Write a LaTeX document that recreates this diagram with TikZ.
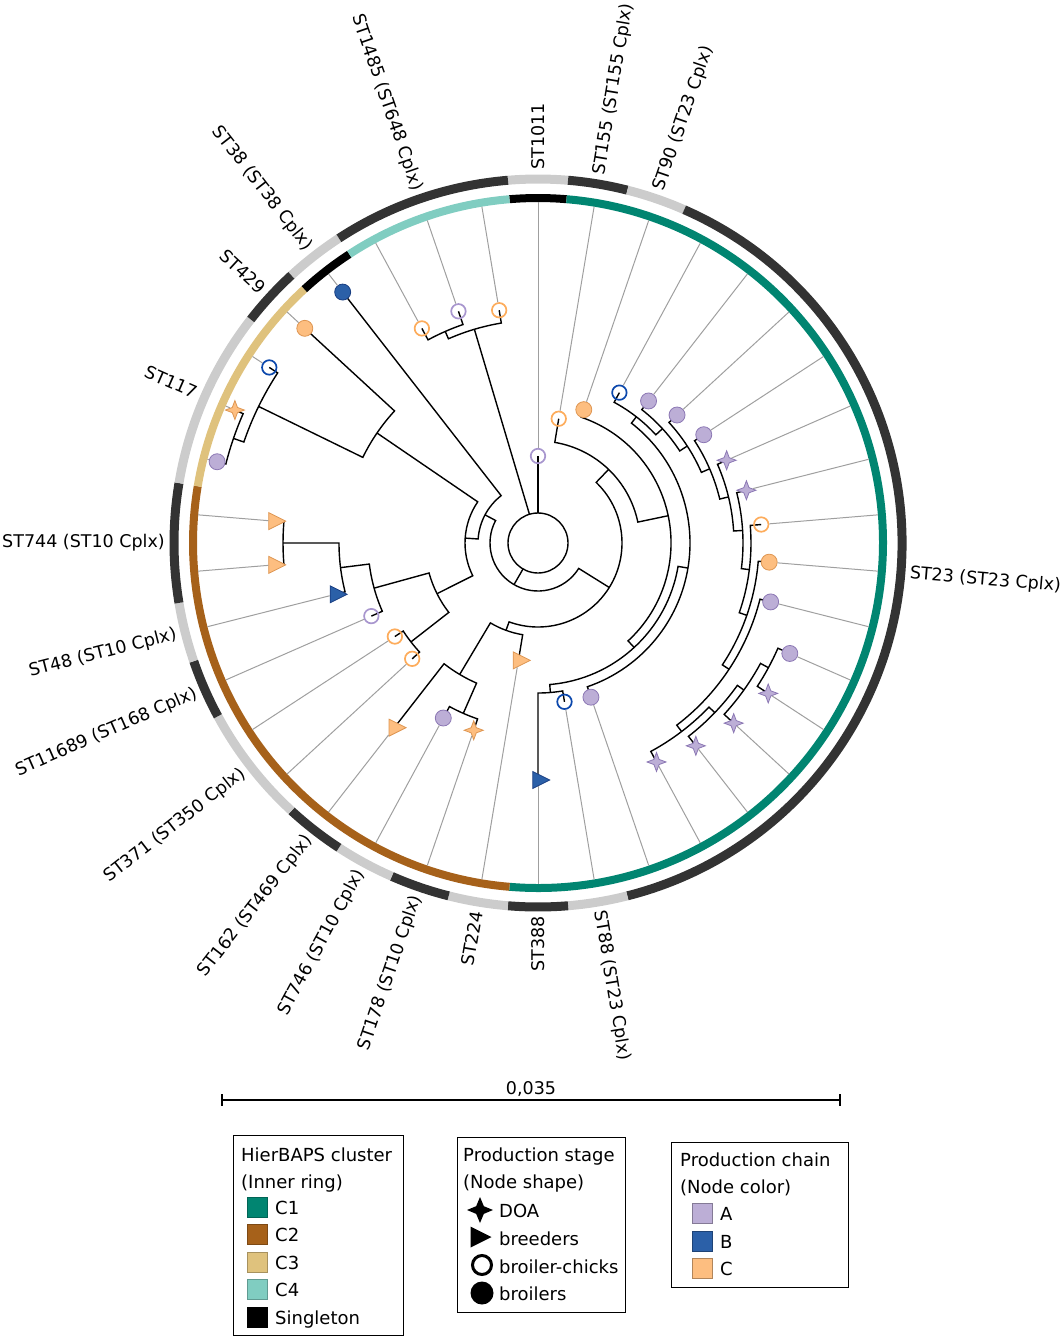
\documentclass[tikz,border=0pt]{standalone}
\usepackage{fontspec}
\setmainfont{DejaVu Sans}
\usetikzlibrary{shapes.geometric}

\definecolor{cOne}{RGB}{1,133,113}
\definecolor{cTwo}{RGB}{166,97,26}
\definecolor{cThree}{RGB}{223,194,125}
\definecolor{cFour}{RGB}{128,205,193}
\definecolor{ringdark}{RGB}{51,51,51}
\definecolor{ringlight}{RGB}{204,204,204}
\definecolor{chA}{RGB}{188,174,214}
\definecolor{chAdk}{RGB}{140,120,180}
\definecolor{chAop}{RGB}{168,150,206}
\definecolor{chB}{RGB}{43,96,168}
\definecolor{chBdk}{RGB}{25,62,130}
\definecolor{chBop}{RGB}{12,72,172}
\definecolor{chC}{RGB}{253,190,128}
\definecolor{chCdk}{RGB}{222,150,82}
\definecolor{chCop}{RGB}{253,172,92}

\begin{document}
\begin{tikzpicture}[x=1pt,y=1pt,
  br/.style={line width=1.4pt},
  leafline/.style={draw=gray!75,line width=1pt},
  inring/.style={line width=8pt},
  outring/.style={line width=9pt},
  lab/.style={font=\fontsize{17.5}{20}\selectfont,inner sep=0pt},
  legtext/.style={font=\fontsize{18}{21}\selectfont,inner sep=0pt,anchor=base west},
  legbox/.style={draw,line width=1pt},
  swatch/.style={rectangle,draw,line width=1pt,minimum size=20pt,inner sep=0pt},
  broil/.style={circle,draw,line width=0.8pt,minimum size=16pt,inner sep=0pt},
  chick/.style={circle,draw,line width=1.7pt,minimum size=14.5pt,inner sep=0pt},
  breed/.style={isosceles triangle,isosceles triangle stretches,draw,line width=0.8pt,minimum width=17pt,minimum height=17pt,inner sep=0pt},
  doa/.style={star,star points=4,star point ratio=2.6,draw,line width=0.8pt,minimum size=19pt,inner sep=0pt},
  broilA/.style={broil,fill=chA,draw=chAdk},
  broilB/.style={broil,fill=chB,draw=chBdk},
  broilC/.style={broil,fill=chC,draw=chCdk},
  chickA/.style={chick,draw=chAop},
  chickB/.style={chick,draw=chBop},
  chickC/.style={chick,draw=chCop},
  breedB/.style={breed,fill=chB,draw=chBdk},
  breedC/.style={breed,fill=chC,draw=chCdk},
  doaA/.style={doa,fill=chA,draw=chAdk},
  doaC/.style={doa,fill=chC,draw=chCdk}]

\useasboundingbox (0,0) rectangle (1063,-1339);

\begin{scope}[shift={(538,-543)}]

  \foreach \sa/\ea/\c in {-4.74/4.74/black, 4.74/184.74/cOne, 184.74/279.47/cTwo,
      279.47/317.37/cThree, 317.37/326.84/black, 326.84/355.26/cFour}
    \draw[inring,\c] ({90-\sa}:345) arc[start angle={90-\sa},end angle={90-\ea},radius=345];

  \foreach \i/\j/\c/\t in {0/0/ringlight/ST1011, 1/1/ringdark/ST155 (ST155 Cplx),
      2/2/ringlight/ST90 (ST23 Cplx), 3/17/ringdark/ST23 (ST23 Cplx),
      18/18/ringlight/ST88 (ST23 Cplx), 19/19/ringdark/ST388, 20/20/ringlight/ST224,
      21/21/ringdark/ST178 (ST10 Cplx), 22/22/ringlight/ST746 (ST10 Cplx),
      23/23/ringdark/ST162 (ST469 Cplx), 24/25/ringlight/ST371 (ST350 Cplx),
      26/26/ringdark/ST11689 (ST168 Cplx), 27/27/ringlight/ST48 (ST10 Cplx),
      28/29/ringdark/ST744 (ST10 Cplx), 30/32/ringlight/ST117, 33/33/ringdark/ST429,
      34/34/ringlight/ST38 (ST38 Cplx), 35/37/ringdark/ST1485 (ST648 Cplx)} {
    \pgfmathsetmacro\sa{90-(\i-0.5)*360/38}
    \pgfmathsetmacro\ea{90-(\j+0.5)*360/38}
    \pgfmathsetmacro\ma{90-(\i+\j)*180/38}
    \draw[outring,\c] (\sa:364) arc[start angle=\sa,end angle=\ea,radius=364];
    \ifdim \ma pt > -89pt
      \node[lab,anchor=west,rotate=\ma] (st\i) at (\ma:373) {\t};
    \else
      \node[lab,anchor=east,rotate=\ma+180] (st\i) at (\ma:373) {\t};
    \fi
  }

  \foreach \k/\r in {0/87, 1/126, 2/141, 3/171, 4/180, 5/189, 6/198, 7/206, 8/215,
      9/224, 10/232, 11/240, 12/275, 13/275, 14/266, 15/257, 16/249, 17/163, 18/161,
      19/237, 20/119, 21/198, 22/199, 23/234, 24/171, 25/171, 26/182, 27/209, 28/265,
      29/265, 30/331, 31/331, 32/321, 33/317, 34/318, 35/244, 36/245, 37/236}
    \coordinate (l\k) at ({90-\k*360/38}:\r);

  \foreach \n/\a/\r in {qd/118.42/262, qc/125.53/253, qb/133.82/245, qa/142.70/237,
      ni/123.46/229, nh/109.10/221, ng/97.18/213, nf/86.49/205, ne/76.40/196,
      nd/66.62/187, nc/56.99/178, nb/47.44/169, na/37.93/160, n152/99.49/152,
      n150/175.26/150, n142/137.38/142, n133/78.16/133, n102/43.82/102,
      n186/203.68/186, n153/210.79/153, n93/200.13/93, n84/121.97/84,
      n318/288.95/322, n311/296.05/311, n195/304.34/195, n255/270/255,
      n199/262.89/199, n170/254.61/170, n161/232.11/161, n113/243.36/113,
      n73/273.85/73, n58/297.98/60, n48/209.98/48, s35/336.32/231, s37/343.42/223}
    \coordinate (\n) at ({90-\a}:\r);

  \foreach \r/\a/\b/\c/\d in {262/113.68/123.16/l12/l13, 253/118.42/132.63/qd/l14,
      245/125.53/142.11/qc/l15, 237/133.82/151.58/qb/l16, 229/104.21/142.70/l11/qa,
      221/94.74/123.46/l10/ni, 213/85.26/109.10/l9/nh, 205/75.79/97.18/l8/ng,
      196/66.32/86.49/l7/nf, 187/56.84/76.40/l6/ne, 178/47.37/66.62/l5/nd,
      169/37.89/56.99/l4/nc, 160/28.42/47.44/l3/nb, 152/37.93/161.05/na/l17,
      150/170.53/180/l18/l19, 142/99.49/175.26/n152/n150, 133/18.95/137.38/l2/n142,
      102/9.47/78.16/l1/n133, 186/198.95/208.42/l21/l22, 153/203.68/217.89/n186/l23,
      93/189.47/210.79/l20/n153, 84/43.82/200.13/n102/n93, 322/284.21/293.68/l30/l31,
      311/288.95/303.16/n318/l32, 195/296.05/312.63/n311/l33, 255/265.26/274.74/l28/l29,
      199/255.79/270/l27/n255, 170/246.32/262.89/l26/n199, 161/227.37/236.84/l24/l25,
      113/232.11/254.61/n161/n170, 73/243.36/304.34/n113/n195, 60/273.85/322.11/n73/l34,
      48/121.97/297.98/n84/n58, 231/331.58/341.05/l35/l36, 223/336.32/350.53/s35/l37}
    \draw[br] (\c) -- ({90-\a}:\r) arc[start angle={90-\a},end angle={90-\b},radius=\r] -- (\d);

  \draw[br] (0,0) circle[radius=30];
  \draw[br] (l0) -- (90:30);
  \draw[br] (n48) -- ({90-209.98}:30);
  \draw[br] (s37) -- ({90-343.42}:30);

  \foreach \k/\s in {0/chickA, 1/chickC, 2/broilC, 3/chickB, 4/broilA, 5/broilA,
      6/broilA, 7/doaA, 8/doaA, 9/chickC, 10/broilC, 11/broilA, 12/broilA, 13/doaA,
      14/doaA, 15/doaA, 16/doaA, 17/broilA, 18/chickB, 19/breedB, 20/breedC, 21/doaC,
      22/broilA, 23/breedC, 24/chickC, 25/chickC, 26/chickA, 27/breedB, 28/breedC,
      29/breedC, 30/broilA, 31/doaC, 32/chickB, 33/broilC, 34/broilB, 35/chickC,
      36/chickA, 37/chickC}
    \node[\s] (m\k) at (l\k) {};

  \foreach \k in {0,...,37}
    \draw[leafline] (m\k) -- ({90-\k*360/38}:341);

\end{scope}

\coordinate (sl) at (222,-1100);
\coordinate (sr) at (840,-1100);
\draw[line width=1.2pt] (sl) -- (sr);
\draw[line width=1.2pt] ([yshift=6pt]sl) -- ([yshift=-6pt]sl);
\draw[line width=1.2pt] ([yshift=6pt]sr) -- ([yshift=-6pt]sr);
\node[lab] (scale) at (531,-1089) {0,035};

\draw[legbox] (233,-1135) rectangle (403,-1335);
\node[legtext] (hb) at (241,-1161) {HierBAPS cluster};
\node[legtext] (hbi) at (241,-1188) {(Inner ring)};
\foreach \y/\c/\t [count=\i] in {1207/cOne/C1, 1234.5/cTwo/C2, 1262/cThree/C3,
    1289/cFour/C4, 1317/black/Singleton} {
  \node[swatch,fill=\c,draw=\c!75!black] (cs\i) at (257.5,-\y) {};
  \node[legtext] (ct\i) at (275,-\y-7) {\t};
}

\draw[legbox] (457,-1137) rectangle (625,-1312);
\node[legtext] (ps) at (463,-1161) {Production stage};
\node[legtext] (psi) at (463,-1188) {(Node shape)};
\node[star,star points=4,star point ratio=2.4,fill=black,minimum size=26pt,inner sep=0pt] (pdoa) at (480,-1210) {};
\node[isosceles triangle,isosceles triangle stretches,fill=black,minimum width=21pt,minimum height=21pt,inner sep=0pt] (pbreed) at (477,-1237) {};
\node[circle,draw,line width=3pt,minimum size=19pt,inner sep=0pt] (pchick) at (482,-1265) {};
\node[circle,fill=black,minimum size=23pt,inner sep=0pt] (pbroil) at (482,-1293) {};
\node[legtext] at (499,-1217) {DOA};
\node[legtext] at (499,-1245) {breeders};
\node[legtext] at (499,-1273) {broiler-chicks};
\node[legtext] at (499,-1300) {broilers};

\draw[legbox] (671,-1142) rectangle (848,-1287);
\node[legtext] (pc) at (680,-1166) {Production chain};
\node[legtext] (pci) at (680,-1193) {(Node color)};
\foreach \y/\c/\t [count=\i] in {1213.5/chA/A, 1241.5/chB/B, 1268.5/chC/C} {
  \node[swatch,fill=\c,draw=\c!70!black] (pcs\i) at (702.5,-\y) {};
  \node[legtext] (pct\i) at (720,-\y-7) {\t};
}

\end{tikzpicture}
\end{document}
